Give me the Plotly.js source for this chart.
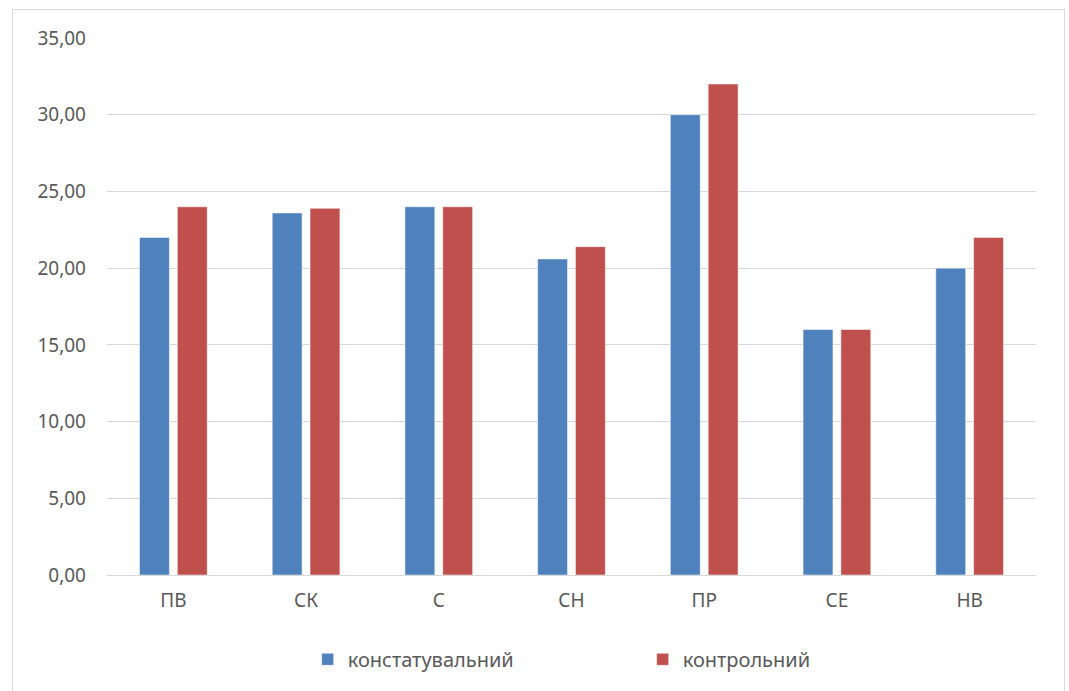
<!DOCTYPE html>
<html><head><meta charset="utf-8">
<script src="https://cdn.plot.ly/plotly-3.0.1.min.js"></script>
<style>
html,body{margin:0;padding:0;background:#fff;overflow:hidden;}
#wrap{position:absolute;left:12px;top:9px;width:1053px;height:700px;border:1px solid #d9d9d9;box-sizing:border-box;}
#chart{width:1051px;height:698px;}
</style></head>
<body><div id="wrap"><div id="chart"></div></div>
<script>
const categories = ['ПВ','СК','С','СН','ПР','СЕ','НВ'];
const seriesNames = ['констатувальний','контрольний'];
const konstatuvalnyi = [22.0, 23.6, 24.0, 20.6, 30.0, 16.0, 20.0];
const kontrolnyi = [24.0, 23.9, 24.0, 21.4, 32.0, 16.0, 22.0];
const yTicks = [0,5,10,15,20,25,30,35];

const fontFam = 'Noto Sans, Open Sans, sans-serif';
const traces = [
  {type:'bar', name:seriesNames[0], x:categories, y:konstatuvalnyi,
   marker:{color:'#4F81BD', line:{color:'#ffffff', width:0.5}}},
  {type:'bar', name:seriesNames[1], x:categories, y:kontrolnyi,
   marker:{color:'#C0504D', line:{color:'#ffffff', width:0.5}}}
];
const layout = {
  width:1051, height:698,
  margin:{l:94, r:28, t:28, b:133},
  paper_bgcolor:'#ffffff', plot_bgcolor:'#ffffff',
  separators:', ',
  barmode:'group', bargap:0.43, bargroupgap:0.21,
  font:{family:fontFam, size:19, color:'#595959'},
  xaxis:{type:'category', showgrid:false, showline:false, zeroline:false,
         ticks:'', ticklabelstandoff:12, tickfont:{size:19, color:'#595959'}},
  yaxis:{range:[0,35], tickvals:yTicks, tickformat:'.2f', showgrid:true,
         gridcolor:'#d9d9d9', gridwidth:1, zeroline:true, zerolinecolor:'#d9d9d9',
         zerolinewidth:1, showline:false, ticks:'', ticklabelstandoff:20,
         tickfont:{size:19, color:'#595959'}},
  showlegend:true,
  legend:{orientation:'h', x:0.216, xanchor:'left', y:-0.157, yanchor:'middle',
          entrywidth:290, entrywidthmode:'pixels', itemwidth:30,
          font:{size:20, color:'#595959'}, traceorder:'normal'}
};
Plotly.newPlot('chart', traces, layout, {displayModeBar:false, staticPlot:true});
</script></body></html>
